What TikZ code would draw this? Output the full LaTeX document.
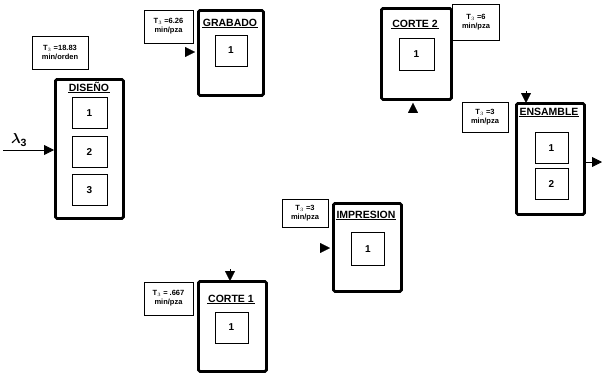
\documentclass[tikz,border=0pt]{standalone}
\usepackage{amsmath}
\usepackage{fontspec}
\setmainfont{Liberation Sans}
\usetikzlibrary{arrows.meta}
\begin{document}
\begin{tikzpicture}[x=1pt,y=-1pt,
  stage/.style={draw, line width=2.8pt, rounded corners=1.5pt, fill=white,
    anchor=north west, inner sep=0pt},
  slot/.style={draw, line width=0.6pt, inner sep=0pt,
    font=\bfseries\fontsize{10}{11}\selectfont},
  title/.style={inner sep=0.6pt, font=\bfseries\fontsize{10.5}{11}\selectfont},
  uline/.style={line width=1.5pt},
  tbox/.style={draw, line width=0.6pt, align=center, inner sep=0pt,
    font=\bfseries\fontsize{7.5}{9}\selectfont},
  tip/.style={-{Triangle[length=10pt,width=10pt]}, line width=0.8pt},
  feed/.style={-{Triangle[length=10pt,width=10pt]}, line width=0.05pt},
  lamlabel/.style={inner sep=0pt, font=\fontsize{15}{16}\selectfont},
]
\useasboundingbox (0,0) rectangle (602,372);

% ---------- DISENO ----------
\node[stage, minimum width=68, minimum height=139] (dis) at (54,78) {};
\node[title] (disT) at (89,87) {DISEÑO};
\draw[uline] (disT.south west) -- (disT.south east);
\node[slot, minimum width=35, minimum height=31] (dis1) at (89.5,113) {1};
\node[slot, minimum width=35, minimum height=31] (dis2) at (89.5,152) {2};
\node[slot, minimum width=35, minimum height=31] (dis3) at (89.5,190) {3};
\node[tbox, minimum width=56, minimum height=33] (disTime) at (60,52.5)
  {T$_3$ =18.83\\min/orden};
\coordinate (lamIn) at (3,150);
\draw[tip] (lamIn) -- (lamIn -| dis.west);
\node[lamlabel] (lam) at (19,140) {$\boldsymbol{\lambda}_{\mathbf{3}}$};

% ---------- GRABADO ----------
\node[stage, minimum width=65, minimum height=85] (gra) at (197,9) {};
\node[title] (graT) at (230,23) {GRABADO};
\draw[uline] (graT.south west) -- (graT.south east);
\node[slot, minimum width=32, minimum height=31] (gra1) at (231,50.5) {1};
\node[tbox, minimum width=49, minimum height=33] (graTime) at (168.5,26.5)
  {T$_3$ =6.26\\min/pza};
\coordinate (graIn) at (185,52);
\draw[feed] (graIn) -- ([xshift=-2pt]graIn -| gra.west);

% ---------- CORTE 2 ----------
\node[stage, minimum width=70, minimum height=91] (co2) at (380,7) {};
\node[title] (co2T) at (415,24) {CORTE 2};
\draw[uline] (co2T.south west) -- (co2T.south east);
\node[slot, minimum width=35, minimum height=32] (co21) at (416.5,54) {1};
\node[tbox, minimum width=47, minimum height=36] (co2Time) at (476,22.5)
  {T$_3$ =6\\min/pza};
\coordinate (co2In) at (413,110);
\draw[feed] (co2In) -- ([yshift=-2pt]co2In |- co2.south);

% ---------- ENSAMBLE ----------
\node[stage, minimum width=68, minimum height=111] (ens) at (515,102) {};
\node[title] (ensT) at (549,112) {ENSAMBLE};
\draw[uline] (ensT.south west) -- (ensT.south east);
\node[slot, minimum width=33, minimum height=31] (ens1) at (551.5,148) {1};
\node[slot, minimum width=33, minimum height=31] (ens2) at (551.5,184) {2};
\node[tbox, minimum width=46, minimum height=30] (ensTime) at (485,117)
  {T$_3$ =3\\min/pza};
\coordinate (ensIn) at (526,91);
\draw[feed] (ensIn) -- ([yshift=-1pt]ensIn |- ens.north);
\coordinate (ensOut) at (602,162);
\draw[tip] (ensOut -| ens.east) -- (ensOut);

% ---------- IMPRESION ----------
\node[stage, minimum width=68, minimum height=88] (imp) at (332,202) {};
\node[title] (impT) at (366,215) {IMPRESION};
\draw[uline] (impT.south west) -- (impT.south east);
\node[slot, minimum width=33, minimum height=33] (imp1) at (368,249) {1};
\node[tbox, minimum width=46, minimum height=28] (impTime) at (305,213)
  {T$_3$ =3\\min/pza};
\coordinate (impIn) at (320,248);
\draw[feed] (impIn) -- ([xshift=-2pt]impIn -| imp.west);

% ---------- CORTE 1 ----------
\node[stage, minimum width=68, minimum height=90] (co1) at (197,280) {};
\node[title] (co1T) at (231,299) {CORTE 1};
\draw[uline] (co1T.south west) -- (co1T.south east);
\node[slot, minimum width=33, minimum height=31] (co11) at (231.5,327.5) {1};
\node[tbox, minimum width=49, minimum height=33] (co1Time) at (168.5,298.5)
  {T$_3$ = .667\\min/pza};
\coordinate (co1In) at (230,269);
\draw[feed] (co1In) -- ([yshift=-1pt]co1In |- co1.north);
\end{tikzpicture}
\end{document}
